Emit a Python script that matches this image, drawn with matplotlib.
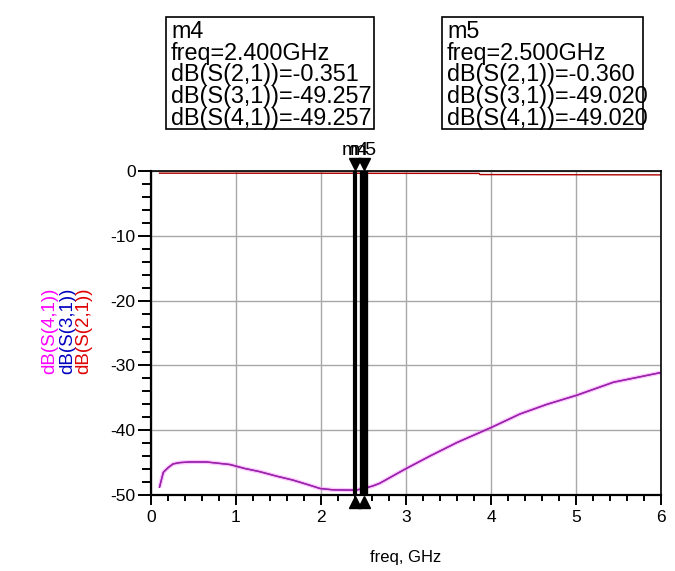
import numpy as np
import matplotlib
matplotlib.use("Agg")
import matplotlib.pyplot as plt
import matplotlib.transforms as mtransforms
from matplotlib.patches import Rectangle
from matplotlib.ticker import MultipleLocator

plt.rcParams["font.family"] = ["Liberation Sans", "DejaVu Sans"]
plt.rcParams["axes.unicode_minus"] = False

# ── Datos ─────────────────────────────────────────────────────────────────────
FREQ_S41 = [0.10, 0.145, 0.20, 0.26, 0.34, 0.46, 0.65, 0.93, 1.10, 1.28, 1.48,
            1.67, 1.87, 1.99, 2.14, 2.40, 2.50, 2.61, 2.69, 2.99, 3.28, 3.60,
            4.00, 4.34, 4.66, 5.01, 5.44, 6.00]
S41 = [-48.8, -46.5, -45.8, -45.2, -45.0, -44.9, -44.9, -45.3, -45.9, -46.4,
       -47.1, -47.7, -48.5, -49.0, -49.2, -49.257, -49.020, -48.6, -48.2,
       -46.0, -44.0, -41.9, -39.6, -37.5, -36.0, -34.6, -32.6, -31.1]
S31 = list(S41)  # idéntica a S41, queda oculta debajo

FREQ_S21 = [0.10, 2.40, 2.50, 3.86, 3.87, 6.00]
S21 = [-0.34, -0.351, -0.360, -0.37, -0.55, -0.60]

MARKERS = ["m4", "m5"]
MARKER_FREQ = [2.4, 2.5]
MARKER_S21 = ["-0.351", "-0.360"]
MARKER_S31 = ["-49.257", "-49.020"]
MARKER_S41 = ["-49.257", "-49.020"]

X_TICKS = [0, 1, 2, 3, 4, 5, 6]
Y_TICKS = [0, -10, -20, -30, -40, -50]

# ── Figura ────────────────────────────────────────────────────────────────────
W, H = 675, 571
fig = plt.figure(figsize=(W / 100, H / 100), dpi=100)


def fx(px):
    return px / W


def fy(py):
    return 1 - py / H


ax = fig.add_axes([fx(151), fy(495), fx(661) - fx(151), fy(171) - fy(495)])

ax.plot(FREQ_S41, S31, color="#0000C0", lw=1.0)
ax.plot(FREQ_S41, S41, color="#FF80FF", lw=3.0, alpha=0.45, solid_capstyle="butt")
ax.plot(FREQ_S41, S41, color="#A020A0", lw=1.0)
ax.plot(FREQ_S21, S21, color="#B00000", lw=1.0)

ax.set_xlim(0, 6)
ax.set_ylim(-50, 0)
ax.set_xticks(X_TICKS)
ax.set_yticks(Y_TICKS)
ax.xaxis.set_minor_locator(MultipleLocator(0.2))
ax.yaxis.set_minor_locator(MultipleLocator(2))
ax.grid(True, which="major", color="#A8A8A8", lw=1.0)
ax.set_axisbelow(True)
ax.tick_params(axis="both", which="both", direction="out", width=1.4,
               labelsize=12.5, color="black")
ax.tick_params(axis="y", which="major", length=9.5, pad=1.5)
ax.tick_params(axis="y", which="minor", length=6.5)
ax.tick_params(axis="x", which="major", length=7.5, pad=3)
ax.tick_params(axis="x", which="minor", length=4.5)
for side in ["left", "bottom"]:
    ax.spines[side].set_linewidth(1.6)
for side in ["top", "right"]:
    ax.spines[side].set_linewidth(1.2)

ax.set_xlabel("freq, GHz", fontsize=12)
ax.xaxis.set_label_coords(0.5, -0.17)

# Etiquetas del eje Y apiladas
for xpix, txt, col in [(49.5, "dB(S(4,1))", "#FF00FF"),
                       (68, "dB(S(3,1))", "#0000C0"),
                       (83.5, "dB(S(2,1))", "#E00000")]:
    fig.text(fx(xpix), fy(331), txt, rotation=90, color=col, fontsize=13.5,
             ha="center", va="center")

# Marcadores
widths = [3.0, 6.0]
up = mtransforms.offset_copy(ax.transData, fig=fig, x=0, y=5, units="points")
dn = mtransforms.offset_copy(ax.transData, fig=fig, x=0, y=-5, units="points")
lab = mtransforms.offset_copy(ax.transData, fig=fig, x=0, y=15, units="points")
for name, f, lw in zip(MARKERS, MARKER_FREQ, widths):
    ax.plot([f, f], [-50, 0], color="black", lw=lw, solid_capstyle="butt",
            zorder=6)
    ax.plot([f], [0], marker="v", ms=9, color="black", transform=up,
            clip_on=False, zorder=7)
    ax.plot([f], [-50], marker="^", ms=9, color="black", transform=dn,
            clip_on=False, zorder=7)
    ax.text(f, 0, name, transform=lab, ha="center", va="center",
            fontsize=14, clip_on=False)

# Cajas de lectura de los marcadores
boxes = [(166, 374), (442, 643)]
for (x0, x1), name, f, s21, s31, s41 in zip(boxes, MARKERS, MARKER_FREQ,
                                             MARKER_S21, MARKER_S31, MARKER_S41):
    fig.add_artist(Rectangle((fx(x0), fy(129)), fx(x1) - fx(x0), fy(17) - fy(129),
                             transform=fig.transFigure, fill=False,
                             edgecolor="black", lw=1.2))
    lines = [name, "freq=%.3fGHz" % f, "dB(S(2,1))=" + s21,
             "dB(S(3,1))=" + s31, "dB(S(4,1))=" + s41]
    for i, line in enumerate(lines):
        fig.text(fx(x0 + 5), fy(38 + i * 21.75), line, fontsize=16.8,
                 ha="left", va="baseline")

fig.savefig("out.png", dpi=100)
